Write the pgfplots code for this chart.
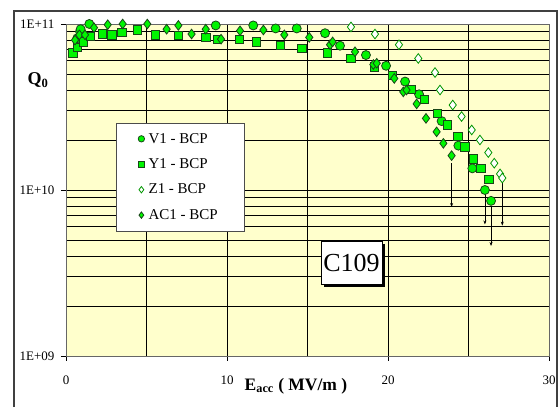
\documentclass[border=0pt]{standalone}
\usepackage{pgfplots}
\pgfplotsset{compat=1.18}
\usepackage{fontspec}
\setmainfont{Liberation Serif}
\usetikzlibrary{arrows.meta}
\definecolor{bgy}{RGB}{255,255,204}
\definecolor{mk}{RGB}{0,245,0}
\definecolor{mkedge}{RGB}{25,70,25}
\definecolor{zedge}{RGB}{0,150,0}
\pgfplotsset{mylegend/.style={legend image code/.code={\draw[##1,mark size=3.2pt] plot coordinates {(0pt,0pt)};}}}
\begin{document}
\begin{tikzpicture}[x=1pt,y=1pt]
\useasboundingbox (0,0) rectangle (559,407);
\draw[line width=1.8pt, black!75] (14,0) -- (14,396) -- (557,396) -- (557,0);
\begin{axis}[at={(66pt,51pt)}, anchor=south west, width=483pt, height=332pt, scale only axis,
  xmin=0, xmax=30, ymode=log, ymin=1e9, ymax=1e11,
  axis background/.style={fill=bgy},
  xtick={0,10,20,30}, xticklabels={0,10,20,30},
  minor xtick={5,15,25},
  ytick={1e9,1e10,1e11}, yticklabels={1E+09,1E+10,1E+11},
  minor ytick={2e9,3e9,4e9,5e9,6e9,7e9,8e9,9e9,2e10,3e10,4e10,5e10,6e10,7e10,8e10,9e10},
  grid=both, major grid style={black, line width=0.8pt}, minor grid style={black, line width=0.8pt},
  tick align=outside, major tick length=5pt, minor tick length=0pt,
  xtick pos=bottom, ytick pos=left, tick style={black, line width=0.8pt},
  axis line style={black!60, line width=0.8pt},
  tick label style={font=\fontsize{13}{13}\selectfont},
  xticklabel style={yshift=-11pt},
  yticklabel style={xshift=-3pt},
  legend style={at={(0.1035,0.702)}, anchor=north west, draw=black!70, fill=white,
    font=\fontsize{15}{15}\selectfont, row sep=10pt, inner xsep=22pt, inner ysep=8pt,
    cells={anchor=west}, nodes={inner xsep=4pt}},
  clip=false,
]
\addplot[only marks, mark=*, mark size=4.5pt, mark options={fill=mk, draw=mkedge, line width=0.8pt}, mylegend] coordinates {
(0.70,8.2e10)(0.87,9.0e10)(0.91,9.3e10)(1.45,1.0e11)(9.3,9.8e10)(11.63,9.8e10)(13.02,9.4e10)(14.33,9.4e10)(16.09,8.8e10)(17.02,7.4e10)(18.63,6.5e10)(19.88,5.6e10)(21.06,4.5e10)(21.93,3.77e10)(23.33,2.6e10)(24.37,1.85e10)(25.24,1.35e10)(26.02,1.0e10)(26.4,8.6e9)
};
\addlegendentry{V1 - BCP}
\addplot[only marks, mark=square*, mark size=4.2pt, mark options={fill=mk, draw=mkedge, line width=0.8pt}, mylegend] coordinates {
(0.42,6.7e10)(0.72,7.2e10)(1.07,7.8e10)(1.53,8.4e10)(2.26,8.7e10)(2.84,8.6e10)(3.46,8.9e10)(4.43,9.2e10)(5.57,8.6e10)(6.98,8.5e10)(8.68,8.3e10)(9.42,8.1e10)(10.76,8.1e10)(11.84,7.8e10)(13.33,7.4e10)(14.64,7.1e10)(16.25,6.7e10)(17.7,6.2e10)(19.15,5.5e10)(20.29,4.9e10)(21.47,4.05e10)(22.26,3.5e10)(23.06,2.9e10)(23.68,2.47e10)(24.33,2.1e10)(24.78,1.82e10)(25.3,1.54e10)(25.76,1.35e10)(26.27,1.16e10)
};
\addlegendentry{Y1 - BCP}
\addplot[only marks, mark=diamond*, mark size=4.8pt, mark options={fill=white, draw=zedge, line width=0.8pt}, mylegend] coordinates {
(17.7,9.6e10)(19.19,8.7e10)(20.68,7.5e10)(21.88,6.2e10)(22.92,5.1e10)(23.23,4.0e10)(24.02,3.25e10)(24.57,2.77e10)(25.2,2.3e10)(25.71,2.0e10)(26.23,1.68e10)(26.6,1.45e10)(26.96,1.25e10)(27.1,1.18e10)
};
\addlegendentry{Z1 - BCP}
\addplot[only marks, mark=diamond*, mark size=4.8pt, mark options={fill=mk, draw=mkedge, line width=0.8pt}, mylegend] coordinates {
(0.56,8.0e10)(0.83,8.6e10)(1.18,8.6e10)(1.74,9.5e10)(2.59,9.9e10)(3.52,1.0e11)(5.05,1.0e11)(6.25,9.3e10)(6.98,9.8e10)(7.8,8.7e10)(8.68,9.3e10)(9.63,8.1e10)(10.81,9.1e10)(12.26,9.2e10)(13.56,8.6e10)(15.11,8.3e10)(16.4,7.5e10)(16.56,7.8e10)(17.95,6.8e10)(19.09,5.7e10)(19.3,5.8e10)(20.39,4.7e10)(20.95,3.9e10)(21.15,4.0e10)(21.78,3.3e10)(22.36,2.7e10)(23.02,2.24e10)(23.44,1.91e10)(23.95,1.61e10)
};
\addlegendentry{AC1 - BCP}
\addplot[forget plot, black, line width=0.6pt, -{Stealth[length=4pt,width=3pt]}] coordinates {(23.95,1.45e10)(23.95,7.9e9)};
\addplot[forget plot, black, line width=0.6pt, -{Stealth[length=4pt,width=3pt]}] coordinates {(26.02,0.95e10)(26.02,6.2e9)};
\addplot[forget plot, black, line width=0.6pt, -{Stealth[length=4pt,width=3pt]}] coordinates {(26.4,8.0e9)(26.4,4.6e9)};
\addplot[forget plot, black, line width=0.6pt, -{Stealth[length=4pt,width=3pt]}] coordinates {(27.1,1.1e10)(27.1,6.1e9)};
\end{axis}
\node[font=\bfseries\fontsize{18}{18}\selectfont] at (38,327) {Q\textsubscript{0}};
\node[font=\bfseries\fontsize{17.5}{17.5}\selectfont] at (296,21) {E\textsubscript{acc} ( MV/m )};
\fill[black] (324,120) rectangle (385,163);
\node[draw=black, fill=white, line width=0.8pt, minimum width=61pt, minimum height=43pt, inner sep=0pt, font=\fontsize{26}{26}\selectfont] at (351.5,144.5) {C109};
\end{tikzpicture}
\end{document}
